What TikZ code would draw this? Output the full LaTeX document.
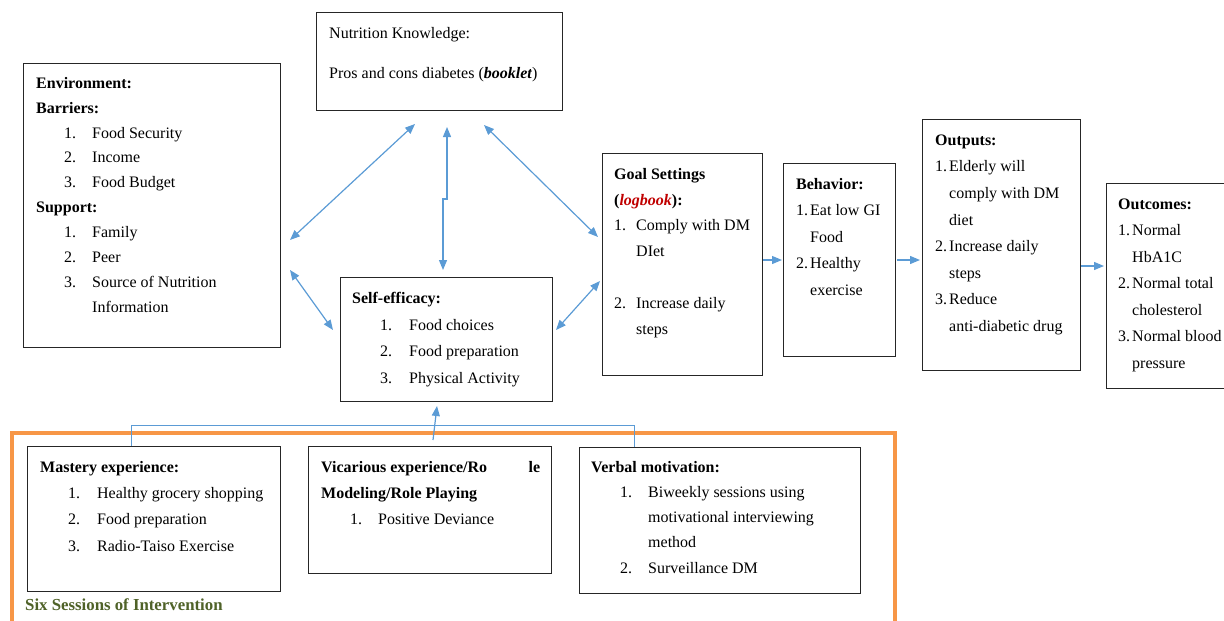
\documentclass[tikz,border=0pt]{standalone}
\usepackage{fontspec}
\setmainfont{Liberation Serif}
\usetikzlibrary{arrows.meta}

\definecolor{arrowblue}{RGB}{91,155,213}
\definecolor{sessorange}{RGB}{247,150,70}
\definecolor{sessgreen}{RGB}{79,98,40}
\definecolor{bookred}{RGB}{192,0,0}

% numbered list line: indent, number width, number
\newcommand{\itm}[3]{\hspace*{#1pt}\makebox[#2pt][l]{#3}}
\newcommand{\fl}{\rule{0pt}{13pt}}

\begin{document}
\begin{tikzpicture}[x=1pt,y=-1pt]
	% Define box, text and connector styles
	\tikzset{box/.style={draw=black!85, line width=0.9pt, inner sep=0pt, outer sep=0pt, anchor=north west},
		txt/.style={anchor=north west, inner sep=0pt, align=left, font=\fontsize{16}{#1}\selectfont},
		txt/.default=25,
		conn/.style={draw=arrowblue, line width=1.2pt},
		>={Triangle[length=10pt,width=8pt]}}
	
	\useasboundingbox (0,0) rectangle (1224,621);
	
	% Draw the intervention frame
	\draw[sessorange, line width=4.5pt] (12,640) -- (12,433) -- (895,433) -- (895,640);
	\node[anchor=base west, inner sep=0pt, text=sessgreen, font=\fontsize{16.8}{20}\selectfont\bfseries] (sessions) at (25,610) {Six Sessions of Intervention};
	
	% Draw the boxes
	\node[box, minimum width=246pt, minimum height=98pt] (nut) at (316,12) {};
	\node[box, minimum width=257pt, minimum height=284pt] (env) at (23,63) {};
	\node[box, minimum width=212pt, minimum height=124pt] (self) at (340,277) {};
	\node[box, minimum width=160pt, minimum height=222pt] (goal) at (602,153) {};
	\node[box, minimum width=112pt, minimum height=193pt] (beh) at (783,163) {};
	\node[box, minimum width=158pt, minimum height=251pt] (outp) at (922,119) {};
	\node[box, minimum width=140pt, minimum height=205pt] (outc) at (1106,183) {};
	\node[box, minimum width=253pt, minimum height=145pt] (mast) at (27,446) {};
	\node[box, minimum width=243pt, minimum height=127pt] (vica) at (308,446) {};
	\node[box, minimum width=281pt, minimum height=146pt] (verb) at (579,447) {};
	
	% Add the box texts
	\node[txt] (nuttxt) at ([shift={(13,13)}]nut.north west) {\fl Nutrition Knowledge:\\[15pt]
		Pros and cons diabetes (\textbf{\textit{booklet}})};
	\node[txt=24.9] (envtxt) at ([shift={(13,12)}]env.north west) {\fl\textbf{Environment:}\\
		\textbf{Barriers:}\\
		\itm{28}{28}{1.}Food Security\\
		\itm{28}{28}{2.}Income\\
		\itm{28}{28}{3.}Food Budget\\
		\textbf{Support:}\\
		\itm{28}{28}{1.}Family\\
		\itm{28}{28}{2.}Peer\\
		\itm{28}{28}{3.}Source of Nutrition\\
		\hspace*{56pt}Information};
	\node[txt=26.8] (selftxt) at ([shift={(12,13)}]self.north west) {\fl\textbf{Self-efficacy:}\\
		\itm{28}{29}{1.}Food choices\\
		\itm{28}{29}{2.}Food preparation\\
		\itm{28}{29}{3.}Physical Activity};
	\node[txt=25.8] (goaltxt) at ([shift={(12,13)}]goal.north west) {\fl\textbf{Goal Settings}\\
		\textbf{(}\textcolor{bookred}{\textbf{\textit{logbook}}}\textbf{):}\\
		\itm{0}{22}{1.}Comply with DM\\
		\hspace*{22pt}DIet\\[25.8pt]
		\itm{0}{22}{2.}Increase daily\\
		\hspace*{22pt}steps};
	\node[txt=26.5] (behtxt) at ([shift={(13,13)}]beh.north west) {\fl\textbf{Behavior:}\\
		\itm{0}{14}{1.}Eat low GI\\
		\hspace*{14pt}Food\\
		\itm{0}{14}{2.}Healthy\\
		\hspace*{14pt}exercise};
	\node[txt=26.6] (outptxt) at ([shift={(13,13)}]outp.north west) {\fl\textbf{Outputs:}\\
		\itm{0}{14}{1.}Elderly will\\
		\hspace*{14pt}comply with DM\\
		\hspace*{14pt}diet\\
		\itm{0}{14}{2.}Increase daily\\
		\hspace*{14pt}steps\\
		\itm{0}{14}{3.}Reduce\\
		\hspace*{14pt}anti-diabetic drug};
	\node[txt=26.5] (outctxt) at ([shift={(12,13)}]outc.north west) {\fl\textbf{Outcomes:}\\
		\itm{0}{14}{1.}Normal\\
		\hspace*{14pt}HbA1C\\
		\itm{0}{14}{2.}Normal total\\
		\hspace*{14pt}cholesterol\\
		\itm{0}{14}{3.}Normal blood\\
		\hspace*{14pt}pressure};
	\node[txt=26.3] (masttxt) at ([shift={(13,13)}]mast.north west) {\fl\textbf{Mastery experience:}\\
		\itm{28}{29}{1.}Healthy grocery shopping\\
		\itm{28}{29}{2.}Food preparation\\
		\itm{28}{29}{3.}Radio-Taiso Exercise};
	\node[txt=26] (vicatxt) at ([shift={(13,13)}]vica.north west) {\fl\makebox[219pt][l]{\textbf{Vicarious experience/Ro}\hfill\textbf{le}}\\
		\textbf{Modeling/Role Playing}\\
		\itm{29}{28}{1.}Positive Deviance};
	\node[txt=25.2] (verbtxt) at ([shift={(12,12)}]verb.north west) {\fl\textbf{Verbal motivation:}\\
		\itm{29}{28}{1.}Biweekly sessions using\\
		\hspace*{57pt}motivational interviewing\\
		\hspace*{57pt}method\\
		\itm{29}{28}{2.}Surveillance DM};
	
	% Draw the two-way connectors round nutrition knowledge and self-efficacy
	\draw[conn, <->] ([shift={(10,177)}]env.north east) -- ([shift={(99,14)}]nut.south west);
	\draw[conn, <->] ([shift={(10,207)}]env.north east) -- ([shift={(-7,53)}]self.north west);
	\draw[conn, <->] ([shift={(131,17)}]nut.south west) -- ++(0,72) -- ++(-4,0) -- ([shift={(103,-7)}]self.north west);
	\draw[conn, <->] ([shift={(-78,15)}]nut.south east) -- ([shift={(-4,84)}]goal.north west);
	\draw[conn, <->] ([shift={(4,53)}]self.north east) -- ([shift={(-2,128)}]goal.north west);
	
	% Draw the chain to the outcomes
	\draw[conn, ->] ([shift={(1,107)}]goal.north east) -- ([shift={(-1,97)}]beh.north west);
	\draw[conn, ->] ([shift={(2,97)}]beh.north east) -- ([shift={(-2,141)}]outp.north west);
	\draw[conn, ->] ([shift={(1,147)}]outp.north east) -- ([shift={(-2,83)}]outc.north west);
	
	% Draw the links from the sessions to self-efficacy
	\draw[conn, line width=1pt] ([xshift=104pt]mast.north west) -- ++(0,-21) -| ([xshift=55pt]verb.north west);
	\draw[conn, ->] ([shift={(125,-6)}]vica.north west) -- ([shift={(97,5)}]self.south west);
\end{tikzpicture}
\end{document}
